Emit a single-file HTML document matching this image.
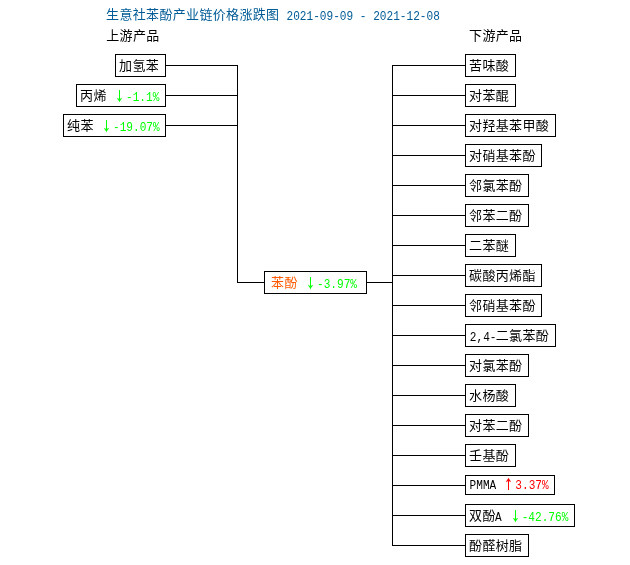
<!DOCTYPE html>
<html lang="zh-CN">
<head>
<meta charset="utf-8">
<title>生意社苯酚产业链价格涨跌图</title>
<style>
html,body{margin:0;padding:0;background:#fff}
svg{display:block;will-change:transform}
.c{font-family:"Liberation Sans","Noto Sans CJK SC",sans-serif;font-size:13px;font-weight:400;text-anchor:middle}
.l{font-family:"Liberation Mono",monospace;font-size:13px;font-weight:400}
.a{font-family:"Noto Sans CJK SC","Liberation Sans",sans-serif;font-size:13.33px;font-weight:700}
rect{fill:#fff;stroke:#000;stroke-width:1;shape-rendering:crispEdges}
path{fill:none;stroke:#000;stroke-width:1;shape-rendering:crispEdges}
</style>
</head>
<body>
<svg width="630" height="565" viewBox="0 0 630 565">
<rect x="0" y="0" width="630" height="565" style="fill:#fff;stroke:none"/>
<path d="M166 65.5H237M166 95.5H237M166 125.5H237M237.5 65V283M237 282.5H264M367 282.5H392M392.5 65V546M392 65.5H465M392 95.5H465M392 125.5H465M392 155.5H465M392 185.5H465M392 215.5H465M392 245.5H465M392 275.5H465M392 305.5H465M392 335.5H465M392 365.5H465M392 395.5H465M392 425.5H465M392 455.5H465M392 485.5H465M392 515.5H465M392 545.5H465"/>
<rect x="115.5" y="54.5" width="50" height="22"/>
<rect x="76.5" y="84.5" width="89" height="22"/>
<rect x="63.5" y="114.5" width="102" height="22"/>
<rect x="264.5" y="271.5" width="102" height="22"/>
<rect x="465.5" y="54.5" width="50" height="22"/>
<rect x="465.5" y="84.5" width="50" height="22"/>
<rect x="465.5" y="114.5" width="90" height="22"/>
<rect x="465.5" y="144.5" width="76" height="22"/>
<rect x="465.5" y="174.5" width="63" height="22"/>
<rect x="465.5" y="204.5" width="63" height="22"/>
<rect x="465.5" y="234.5" width="50" height="22"/>
<rect x="465.5" y="264.5" width="76" height="22"/>
<rect x="465.5" y="294.5" width="76" height="22"/>
<rect x="465.5" y="324.5" width="90" height="22"/>
<rect x="465.5" y="354.5" width="63" height="22"/>
<rect x="465.5" y="384.5" width="50" height="22"/>
<rect x="465.5" y="414.5" width="63" height="22"/>
<rect x="465.5" y="444.5" width="50" height="22"/>
<rect x="465.5" y="475.5" width="89" height="19"/>
<rect x="465.5" y="504.5" width="109" height="22"/>
<rect x="465.5" y="534.5" width="63" height="22"/>
<g><text class="c" x="112.57 125.9 139.23 152.57 165.9 179.23 192.57 205.9 219.23 232.57 245.9 259.23 272.57" y="19" fill="#005b96">生意社苯酚产业链价格涨跌图</text></g>
<g><text class="l" x="286.5" y="20" textLength="66.67" lengthAdjust="spacingAndGlyphs" fill="#005b96">2021-09-09</text><text class="l" x="359.83" y="20" textLength="6.67" lengthAdjust="spacingAndGlyphs" fill="#005b96">-</text><text class="l" x="373.17" y="20" textLength="66.67" lengthAdjust="spacingAndGlyphs" fill="#005b96">2021-12-08</text></g>
<g><text class="c" x="112.77 126.1 139.43 152.77" y="40" fill="#000">上游产品</text></g>
<g><text class="c" x="475.57 488.9 502.23 515.57" y="40" fill="#000">下游产品</text></g>
<g><text class="c" x="125.57 138.9 152.23" y="70" fill="#000">加氢苯</text></g>
<g><text class="c" x="86.57 99.9" y="100" fill="#000">丙烯</text><text class="a" x="114.75" y="101" textLength="9.5" lengthAdjust="spacingAndGlyphs" fill="#00ff00">↓</text><text class="l" x="125.97" y="101" textLength="33.33" lengthAdjust="spacingAndGlyphs" fill="#00ff00">-1.1%</text></g>
<g><text class="c" x="73.57 86.9" y="130" fill="#000">纯苯</text><text class="a" x="101.75" y="131" textLength="9.5" lengthAdjust="spacingAndGlyphs" fill="#00ff00">↓</text><text class="l" x="112.97" y="131" textLength="46.67" lengthAdjust="spacingAndGlyphs" fill="#00ff00">-19.07%</text></g>
<g><text class="c" x="277.57 290.9" y="287" fill="#ff5a00">苯酚</text><text class="a" x="305.75" y="288" textLength="9.5" lengthAdjust="spacingAndGlyphs" fill="#00ff00">↓</text><text class="l" x="316.97" y="288" textLength="40" lengthAdjust="spacingAndGlyphs" fill="#00ff00">-3.97%</text></g>
<g><text class="c" x="475.57 488.9 502.23" y="70" fill="#000">苦味酸</text></g>
<g><text class="c" x="475.57 488.9 502.23" y="100" fill="#000">对苯醌</text></g>
<g><text class="c" x="475.57 488.9 502.23 515.57 528.9 542.23" y="130" fill="#000">对羟基苯甲酸</text></g>
<g><text class="c" x="475.57 488.9 502.23 515.57 528.9" y="160" fill="#000">对硝基苯酚</text></g>
<g><text class="c" x="475.57 488.9 502.23 515.57" y="190" fill="#000">邻氯苯酚</text></g>
<g><text class="c" x="475.57 488.9 502.23 515.57" y="220" fill="#000">邻苯二酚</text></g>
<g><text class="c" x="475.57 488.9 502.23" y="250" fill="#000">二苯醚</text></g>
<g><text class="c" x="475.57 488.9 502.23 515.57 528.9" y="280" fill="#000">碳酸丙烯酯</text></g>
<g><text class="c" x="475.57 488.9 502.23 515.57 528.9" y="310" fill="#000">邻硝基苯酚</text></g>
<g><text class="l" x="469.8" y="341" textLength="26.67" lengthAdjust="spacingAndGlyphs" fill="#000">2,4-</text><text class="c" x="502.23 515.57 528.9 542.23" y="340" fill="#000">二氯苯酚</text></g>
<g><text class="c" x="475.57 488.9 502.23 515.57" y="370" fill="#000">对氯苯酚</text></g>
<g><text class="c" x="475.57 488.9 502.23" y="400" fill="#000">水杨酸</text></g>
<g><text class="c" x="475.57 488.9 502.23 515.57" y="430" fill="#000">对苯二酚</text></g>
<g><text class="c" x="475.57 488.9 502.23" y="460" fill="#000">壬基酚</text></g>
<g><text class="l" x="469.6" y="489" textLength="26.67" lengthAdjust="spacingAndGlyphs" fill="#000">PMMA</text><text class="a" x="503.75" y="489" textLength="9.5" lengthAdjust="spacingAndGlyphs" fill="#ff0000">↑</text><text class="l" x="515.37" y="489" textLength="33.33" lengthAdjust="spacingAndGlyphs" fill="#ff0000">3.37%</text></g>
<g><text class="c" x="475.57 488.9" y="520" fill="#000">双酚</text><text class="l" x="494.97" y="521" textLength="6.67" lengthAdjust="spacingAndGlyphs" fill="#000">A</text><text class="a" x="510.75" y="521" textLength="9.5" lengthAdjust="spacingAndGlyphs" fill="#00ff00">↓</text><text class="l" x="521.63" y="521" textLength="46.67" lengthAdjust="spacingAndGlyphs" fill="#00ff00">-42.76%</text></g>
<g><text class="c" x="475.57 488.9 502.23 515.57" y="550" fill="#000">酚醛树脂</text></g>
</svg>
</body>
</html>
